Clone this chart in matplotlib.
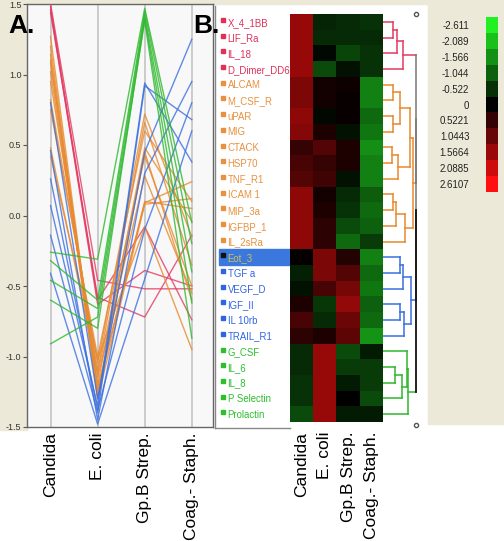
import numpy as np
import matplotlib
matplotlib.use('Agg')
import matplotlib.pyplot as plt
from matplotlib.colors import LinearSegmentedColormap
from matplotlib.patches import Rectangle
from matplotlib.lines import Line2D

plt.rcParams['font.family'] = ['Liberation Sans', 'DejaVu Sans']

# ---------------- data ----------------
conditions = ['Candida', 'E. coli', 'Gp.B Strep.', 'Coag.- Staph.']

names_red = ['X_4_1BB', 'LIF_Ra', 'IL_18', 'D_Dimer_DD6']
names_orange = ['ALCAM', 'M_CSF_R', 'uPAR', 'MIG', 'CTACK', 'HSP70', 'TNF_R1',
                'ICAM 1', 'MIP_3a', 'IGFBP_1', 'IL_2sRa']
names_blue = ['Eot_3', 'TGF a', 'VEGF_D', 'IGF_II', 'IL 10rb', 'TRAIL_R1']
names_green = ['G_CSF', 'IL_6', 'IL_8', 'P Selectin', 'Prolactin']

# parallel-coordinate profiles (panel A)
prof_red = [[1.50, -0.46, -0.52, -0.52],
            [1.48, -0.60, -0.08, -0.74],
            [1.46, -0.63, -0.39, -0.50],
            [1.44, -0.58, -0.72, -0.14]]
prof_orange = [[1.27, -1.25, 0.10, 0.05],
               [1.20, -1.30, 0.08, 0.12],
               [1.14, -1.22, 0.09, 0.24],
               [1.08, -1.15, 0.28, -0.55],
               [0.82, -1.05, 0.72, -0.15],
               [0.95, -1.10, 0.66, -0.35],
               [0.75, -1.00, 0.60, 0.10],
               [1.02, -1.20, 0.48, -0.04],
               [1.10, -1.28, 0.45, -0.60],
               [0.48, -1.12, 0.42, -0.50],
               [0.42, -1.02, -0.08, -0.95]]
prof_blue = [[0.07, -1.35, 0.94, 0.38],
             [-0.14, -1.40, 0.92, 0.68],
             [0.80, -1.30, 0.45, 1.25],
             [0.46, -1.45, 0.30, 0.95],
             [0.26, -1.38, -0.10, 0.80],
             [-0.41, -1.48, -0.45, 0.60]]
prof_green = [[-0.26, -0.31, 1.47, -0.05],
              [-0.32, -0.60, 1.45, -0.20],
              [-0.46, -0.66, 1.42, -0.40],
              [-0.60, -0.80, 1.40, -0.62],
              [-0.91, -0.72, 1.38, -0.87]]

# heat map values (panel B)
heat_red = [[1.55, -0.4, -0.45, -0.55],
            [1.55, -0.45, -0.45, -0.45],
            [1.55, -0.1, -0.75, -0.55],
            [1.55, -0.8, -0.2, -0.55]]
heat_orange = [[1.25, 0.2, 0.15, -1.4],
               [1.25, 0.2, 0.1, -1.4],
               [1.45, -0.1, 0.1, -1.15],
               [1.35, 0.3, -0.2, -1.3],
               [0.55, 0.85, 0.3, -1.55],
               [0.75, 0.55, 0.3, -1.4],
               [0.85, 0.65, -0.2, -1.4],
               [1.45, 0.2, -0.45, -1.0],
               [1.45, 0.3, -0.55, -1.15],
               [1.45, 0.45, -0.8, -1.05],
               [1.45, 0.45, -1.15, -0.65]]
heat_blue = [[0.05, 1.25, 0.35, -1.4],
             [-0.35, 1.25, 0.85, -1.15],
             [-0.2, 0.75, 1.2, -1.3],
             [0.3, -0.6, 1.5, -1.05],
             [0.75, -0.45, 1.1, -1.15],
             [0.45, 0.3, 0.95, -1.6]]
heat_green = [[-0.45, 1.55, -0.8, -0.3],
              [-0.45, 1.55, -0.65, -0.65],
              [-0.55, 1.55, -0.3, -0.65],
              [-0.55, 1.55, 0.0, -0.8],
              [-0.8, 1.55, -0.3, -0.3]]

# dendrogram merges (child a, child b, merge distance)
tree_links = [(0, 1, 10), (26, 2, 14), (27, 3, 20),
              (4, 5, 10), (6, 7, 10), (29, 30, 17),
              (8, 9, 9), (32, 10, 15),
              (11, 12, 10), (34, 13, 13), (35, 14, 22),
              (31, 33, 27), (37, 36, 30),
              (15, 16, 17), (39, 17, 20), (18, 19, 17), (41, 20, 21), (40, 42, 28),
              (22, 23, 12), (44, 24, 19), (21, 45, 24), (46, 25, 25),
              (28, 38, 33), (48, 43, 33), (49, 47, 33)]

cbar_levels = [-2.611, -2.089, -1.566, -1.044, -0.522, 0, 0.5221, 1.0443, 1.5664, 2.0885, 2.6107]
cbar_labels = ['-2.611', '-2.089', '-1.566', '-1.044', '-0.522', '0', '0.5221', '1.0443',
               '1.5664', '2.0885', '2.6107']

# ---------------- styling ----------------
col_line = {'red': '#E23A62', 'orange': '#E8892E', 'blue': '#3A6FE0', 'green': '#2DB82D'}
col_text = {'red': '#E0305A', 'orange': '#E8913E', 'blue': '#3065E0', 'green': '#2EBE2E'}
beige = '#ECE9D8'

W, H = 504, 541
def rect(x0, y0, x1, y1):
    return [x0 / W, 1 - y1 / H, (x1 - x0) / W, (y1 - y0) / H]

fig = plt.figure(figsize=(W / 100, H / 100), dpi=100)
fig.patch.set_facecolor('white')

# background panels
for (x0, y0, x1, y1) in [(0, 0, 27, 430), (0, 0, 504, 4), (428, 0, 504, 424)]:
    fig.patches.append(Rectangle((x0 / W, 1 - y1 / H), (x1 - x0) / W, (y1 - y0) / H,
                                 transform=fig.transFigure, color=beige, zorder=-10))

# ---------------- panel A ----------------
axA = fig.add_axes(rect(27, 4, 213, 427), facecolor='#F8F8F8')
groups = [('red', prof_red), ('orange', prof_orange), ('blue', prof_blue), ('green', prof_green)]
xs = np.arange(len(conditions))
for g, prof in groups:
    for row in prof:
        axA.plot(xs, row, color=col_line[g], lw=1.0, alpha=0.8, zorder=3)
for i in xs:
    axA.axvline(i, color='#C8C8C8', lw=1.3, zorder=1)
axA.set_xlim(-0.5, 3.45)
axA.set_ylim(-1.5, 1.5)
axA.set_xticks(xs)
axA.set_xticklabels(conditions, rotation=90, fontsize=12.5, va='top')
axA.tick_params(axis='x', length=0, pad=4)
yt = [-1.5, -1.0, -0.5, 0.0, 0.5, 1.0, 1.5]
axA.set_yticks(yt)
axA.set_yticklabels([f'{v:.1f}' for v in yt], fontsize=6.5, color='#333333')
axA.tick_params(axis='y', length=3, width=0.8, pad=1, colors='#555555', labelcolor='#333333')
for s in axA.spines.values():
    s.set_color('#666666')
    s.set_linewidth(1.0)

fig.text(8 / W, 1 - 33 / H, 'A.', fontsize=19, fontweight='bold', va='baseline', ha='left')
fig.text(193 / W, 1 - 33 / H, 'B.', fontsize=19, fontweight='bold', va='baseline', ha='left')

# ---------------- panel B ----------------
cmap = LinearSegmentedColormap.from_list('gkr', ['#22F022', '#000000', '#FF1010'])
heat = np.array(heat_red + heat_orange + heat_blue + heat_green)
names = names_red + names_orange + names_blue + names_green
gnames = ['red'] * 4 + ['orange'] * 11 + ['blue'] * 6 + ['green'] * 5
n = len(names)

axH = fig.add_axes(rect(290, 14, 383, 422))
axH.imshow(heat, cmap=cmap, vmin=-2.611, vmax=2.611, aspect='auto', interpolation='nearest')
axH.set_xticks(range(4))
axH.set_xticklabels(conditions, rotation=90, fontsize=12.5, va='top')
axH.tick_params(axis='x', length=0, pad=7)
axH.set_yticks([])
for s in axH.spines.values():
    s.set_visible(False)

# labels
axL = fig.add_axes(rect(218, 14, 290, 422))
axL.set_xlim(0, 72)
axL.set_ylim(n - 0.5, -0.5)
axL.axis('off')
sel = names.index('Eot_3')
axL.add_patch(Rectangle((1, sel - 0.5), 71, 1, color='#3B78DD', zorder=1))
for i, (nm, g) in enumerate(zip(names, gnames)):
    c = col_text[g]
    tc = c
    bc = c
    if i == sel:
        tc, bc = '#C8C060', '#111111'
    axL.plot(5, i - 0.12, marker='s', ms=2.2, color=bc, zorder=3)
    axL.text(9.5, i + 0.05, nm, fontsize=6.9, color=tc, va='center', ha='left', zorder=3)

fig.add_artist(Line2D([215 / W, 215 / W], [1 - 6 / H, 1 - 428 / H],
                      transform=fig.transFigure, color='#888888', lw=1))
fig.add_artist(Line2D([215 / W, 290 / W], [1 - 428 / H, 1 - 428 / H],
                      transform=fig.transFigure, color='#888888', lw=1))

# dendrogram
axD = fig.add_axes(rect(383, 14, 428, 422))
axD.set_xlim(0, 45)
axD.set_ylim(n - 0.5, -0.5)
axD.axis('off')
pos = {i: float(i) for i in range(n)}
hgt = {i: 0.0 for i in range(n)}
mem = {i: {gnames[i]} for i in range(n)}

def link_colour(m):
    return col_line[next(iter(m))] if len(m) == 1 else '#777777'

for k, (a, b, h) in enumerate(tree_links):
    nid = n + k
    m = mem[a] | mem[b]
    c = '#111111' if k == len(tree_links) - 1 else link_colour(m)
    axD.plot([hgt[a], h], [pos[a], pos[a]], color=link_colour(mem[a]), lw=1.1)
    axD.plot([hgt[b], h], [pos[b], pos[b]], color=link_colour(mem[b]), lw=1.1)
    axD.plot([h, h], [pos[a], pos[b]], color=c, lw=1.3 if c == '#111111' else 1.1)
    pos[nid] = (pos[a] + pos[b]) / 2
    hgt[nid] = h
    mem[nid] = m
axD.plot([33, 33], [-0.5, 25.7], ls='none', marker='o', ms=3, mfc='white', mec='#555555',
         clip_on=False)

# colour bar
axC = fig.add_axes(rect(486, 17, 498, 192))
axC.imshow(np.array(cbar_levels)[:, None], cmap=cmap, vmin=-2.611, vmax=2.611,
           aspect='auto', interpolation='nearest')
axC.set_xticks([])
axC.set_yticks(range(len(cbar_levels)))
axC.set_yticklabels(cbar_labels, fontsize=7, color='#222222')
axC.tick_params(axis='y', length=0, pad=12)
for s in axC.spines.values():
    s.set_visible(False)

fig.savefig('out.png', dpi=100, facecolor='white')
